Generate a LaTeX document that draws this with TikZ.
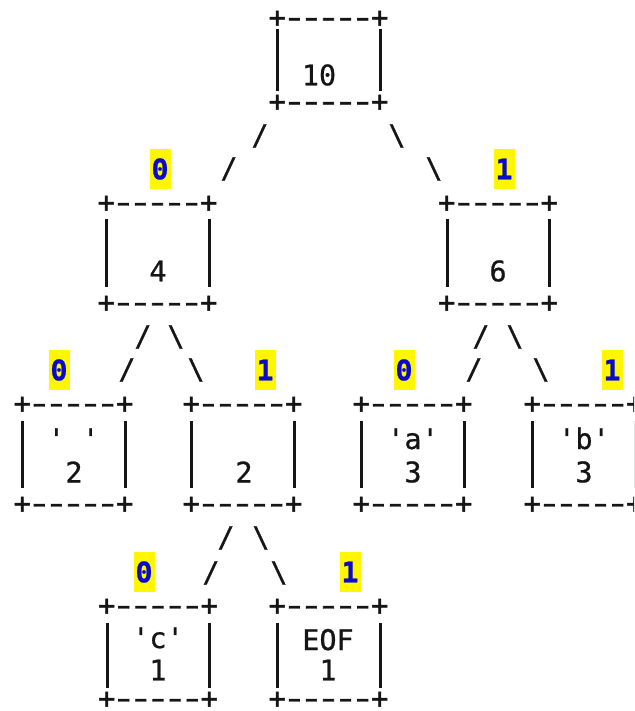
\documentclass[tikz,border=0pt]{standalone}
\usepackage{fontspec}
\setmonofont{DejaVu Sans Mono}[FakeBold=0.8]
\newfontfamily\brdfont{DejaVu Sans Mono}[FakeBold=1.6]
\usetikzlibrary{fit,calc}
\definecolor{ink}{HTML}{151515}
\definecolor{hl}{HTML}{FFF600}
\definecolor{lblue}{HTML}{0A0ACF}
\tikzset{
  asc/.style={font=\fontsize{14.2}{17}\selectfont\ttfamily, text=ink, inner sep=0pt, outer sep=0pt},
  brdtext/.style={font=\fontsize{14.2}{17}\selectfont\brdfont, text=ink, inner sep=0pt, outer sep=0pt},
  boxnode/.style={inner sep=0pt, outer sep=0pt},
  bar/.style={draw=ink, line width=1.5pt},
  lbl/.style={fill=hl, text=lblue, font=\fontsize{14.2}{17}\selectfont\ttfamily\bfseries,
              minimum width=10.5pt, minimum height=20pt, inner sep=0pt},
}
\newcommand\dsh{\makebox[0.602em][c]{\scalebox{1.45}[1]{-}}}
\newcommand\brd{+\dsh\dsh\dsh\dsh\dsh+}
% name, xl, xr, yt, yb, gapTop, gapBot
\newcommand\asciibox[7]{%
  \node[boxnode, fit={(#2,#4) (#3,#5)}] (#1) {};
  \node[brdtext] (#1-top) at (#1.north) {\brd};
  \node[brdtext] (#1-bot) at (#1.south) {\brd};
  \draw[bar] ($(#1.north west)+(0,#6)$) -- ($(#1.south west)+(0,-#7)$);
  \draw[bar] ($(#1.north east)+(0,#6)$) -- ($(#1.south east)+(0,-#7)$);
}
\begin{document}
\begin{tikzpicture}[x=0.5pt,y=-0.5pt]
\clip (0,0) rectangle (634,711);
\fill[white] (0,0) rectangle (634,711);

% boxes
\asciibox{n10}{277}{380}{19}{103}{10}{12}
\asciibox{n4}{106}{209}{204}{304}{15}{17}
\asciibox{n6}{447}{549}{204}{304}{15}{17}
\asciibox{nsp}{22}{125}{405}{505}{16}{17}
\asciibox{ntwo}{191}{294}{405}{505}{16}{17}
\asciibox{na}{361}{464}{405}{505}{16}{17}
\asciibox{nb}{532}{635}{405}{505}{16}{17}
\asciibox{nc}{107}{209}{607}{700}{16}{12}
\asciibox{neof}{277}{380}{607}{700}{16}{12}

% box contents
\node[asc] (t10) at (319,75) {10};
\node[asc] (t4) at (158,271) {4};
\node[asc] (t6) at (498,271) {6};
\node[asc, anchor=base] (tsp) at (73.5,449) {' '};
\node[asc] (tsp2) at (74,472) {2};
\node[asc] (ttwo) at (244,472) {2};
\node[asc, anchor=base] (ta) at (413,449) {'a'};
\node[asc] (ta3) at (413,472) {3};
\node[asc, anchor=base] (tb) at (584,449) {'b'};
\node[asc] (tb3) at (584,472) {3};
\node[asc, anchor=base] (tc) at (158,648) {'c'};
\node[asc] (tc1) at (158,670) {1};
\node[asc, anchor=base] (teof) at (328,650) {EOF};
\node[asc] (teof1) at (328,670) {1};

% connectors (ASCII slashes)
\node[asc] (s10l1) at (260,136) {/};
\node[asc] (s10l2) at (229,169) {/};
\node[asc] (s10r1) at (397,136) {\textbackslash};
\node[asc] (s10r2) at (434,169) {\textbackslash};
\node[asc] (s4l1) at (143,337) {/};
\node[asc] (s4l2) at (127,370) {/};
\node[asc] (s4r1) at (176,337) {\textbackslash};
\node[asc] (s4r2) at (196,370) {\textbackslash};
\node[asc] (s6l1) at (481,337) {/};
\node[asc] (s6l2) at (474,370) {/};
\node[asc] (s6r1) at (515,337) {\textbackslash};
\node[asc] (s6r2) at (541,370) {\textbackslash};
\node[asc] (s2l1) at (226,538) {/};
\node[asc] (s2l2) at (211,573) {/};
\node[asc] (s2r1) at (261,538) {\textbackslash};
\node[asc] (s2r2) at (279,573) {\textbackslash};

% edge labels
\node[lbl] (l4) at (160,169) {0};
\node[lbl] (l6) at (504,169) {1};
\node[lbl] (lsp) at (59,370) {0};
\node[lbl] (ltwo) at (265,370) {1};
\node[lbl] (la) at (404,370) {0};
\node[lbl] (lb) at (612,370) {1};
\node[lbl] (lc) at (144,572) {0};
\node[lbl] (leof) at (350,572) {1};
\end{tikzpicture}
\end{document}
